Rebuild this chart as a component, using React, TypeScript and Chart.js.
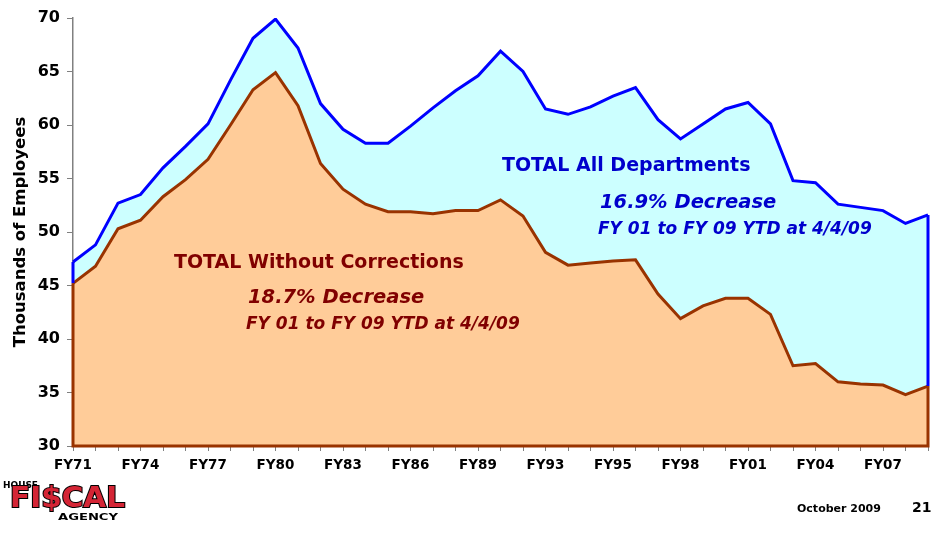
import { useEffect, useRef } from "react";
import { Chart, registerables } from "chart.js";

Chart.register(...registerables);

const categories = [
  "FY71", "FY72", "FY73", "FY74", "FY75", "FY76", "FY77", "FY78", "FY79", "FY80",
  "FY81", "FY82", "FY83", "FY84", "FY85", "FY86", "FY87", "FY88", "FY89", "FY90",
  "FY91", "FY92", "FY93", "FY94", "FY95", "FY96", "FY97", "FY98", "FY99", "FY00",
  "FY01", "FY02", "FY03", "FY04", "FY05", "FY06", "FY07", "FY08", "FY09",
];

const tickLabels = [
  "FY71", "FY74", "FY77", "FY80", "FY83", "FY86", "FY89",
  "FY93", "FY95", "FY98", "FY01", "FY04", "FY07",
];

const totalAllDepartments = [
  47.2, 48.8, 52.7, 53.5, 56.0, 58.0, 60.1, 64.2, 68.1, 69.9,
  67.2, 62.0, 59.6, 58.3, 58.3, 59.9, 61.6, 63.2, 64.6, 66.9,
  65.0, 61.5, 61.0, 61.7, 62.7, 63.5, 60.5, 58.7, 60.1, 61.5,
  62.1, 60.1, 54.8, 54.6, 52.6, 52.3, 52.0, 50.8, 51.6,
];

const totalWithoutCorrections = [
  45.2, 46.8, 50.3, 51.1, 53.3, 54.9, 56.8, 60.0, 63.3, 64.9,
  61.8, 56.4, 54.0, 52.6, 51.9, 51.9, 51.7, 52.0, 52.0, 53.0,
  51.5, 48.1, 46.9, 47.1, 47.3, 47.4, 44.2, 41.9, 43.1, 43.8,
  43.8, 42.3, 37.5, 37.7, 36.0, 35.8, 35.7, 34.8, 35.6,
];

const FONT = "'DejaVu Sans', Verdana, sans-serif";
const BLUE = "#0000FF";
const BROWN = "#993300";

const outlinePlugin = {
  id: "outline",
  afterDatasetsDraw(chart: any) {
    const ctx = chart.ctx;
    const blue = chart.getDatasetMeta(0).data;
    const orange = chart.getDatasetMeta(1).data;
    const bottom = chart.scales.y.getPixelForValue(30);
    const n = orange.length - 1;
    ctx.save();
    ctx.lineCap = "butt";
    ctx.strokeStyle = BLUE;
    ctx.lineWidth = 3;
    ctx.beginPath();
    ctx.moveTo(blue[0].x, blue[0].y);
    ctx.lineTo(orange[0].x, orange[0].y);
    ctx.moveTo(blue[n].x, blue[n].y);
    ctx.lineTo(orange[n].x, orange[n].y);
    ctx.stroke();
    ctx.strokeStyle = BROWN;
    ctx.lineWidth = 3;
    ctx.lineJoin = "miter";
    ctx.beginPath();
    ctx.moveTo(orange[0].x, orange[0].y);
    ctx.lineTo(orange[0].x, bottom);
    ctx.lineTo(orange[n].x, bottom);
    ctx.lineTo(orange[n].x, orange[n].y);
    ctx.stroke();
    ctx.restore();
  },
};

const textPlugin = {
  id: "texts",
  afterDraw(chart: any) {
    const ctx = chart.ctx;
    ctx.save();
    ctx.textBaseline = "middle";
    ctx.textAlign = "left";
    const put = (t: string, x: number, y: number, font: string, color: string) => {
      ctx.font = font;
      ctx.fillStyle = color;
      ctx.fillText(t, x, y);
    };
    const dBlue = "#0000CC";
    const dRed = "#800000";
    put("TOTAL All Departments", 502, 166, `bold 19px ${FONT}`, dBlue);
    put("16.9% Decrease", 600, 203, `italic bold 19.5px ${FONT}`, dBlue);
    put("FY 01 to FY 09 YTD at 4/4/09", 598, 230, `italic bold 17px ${FONT}`, dBlue);
    put("TOTAL Without Corrections", 174, 263, `bold 19px ${FONT}`, dRed);
    put("18.7% Decrease", 248, 298, `italic bold 19.5px ${FONT}`, dRed);
    put("FY 01 to FY 09 YTD at 4/4/09", 246, 325, `italic bold 17px ${FONT}`, dRed);

    put("October 2009", 797, 509, `bold 11px ${FONT}`, "#000000");
    put("21", 912, 508, `bold 14px ${FONT}`, "#000000");

    const fit = (t: string, x: number, y: number, w: number, font: string, fill: string, stroke?: string) => {
      ctx.font = font;
      const m = ctx.measureText(t).width;
      ctx.save();
      ctx.translate(x, y);
      ctx.scale(w / m, 1);
      if (stroke) {
        ctx.lineWidth = 2;
        ctx.strokeStyle = stroke;
        ctx.strokeText(t, 0, 0);
      }
      ctx.fillStyle = fill;
      ctx.fillText(t, 0, 0);
      ctx.restore();
    };
    fit("HOUSE", 3, 486, 35, `bold 8px ${FONT}`, "#000000");
    fit("FI$CAL", 10, 500, 115, `bold 28px ${FONT}`, "#D42535", "#000000");
    fit("AGENCY", 58, 518, 60, `bold 8px ${FONT}`, "#000000");
    ctx.restore();
  },
};

export default function App() {
  const ref = useRef<HTMLCanvasElement | null>(null);

  useEffect(() => {
    document.body.style.margin = "0";
    if (!ref.current) return;
    const chart = new Chart(ref.current, {
      type: "line",
      data: {
        labels: categories,
        datasets: [
          {
            label: "TOTAL All Departments",
            data: totalAllDepartments,
            borderColor: BLUE,
            borderWidth: 3,
            backgroundColor: "#CCFFFF",
            fill: "+1",
            pointRadius: 0,
            tension: 0,
            order: 1,
          },
          {
            label: "TOTAL Without Corrections",
            data: totalWithoutCorrections,
            borderColor: BROWN,
            borderWidth: 3,
            backgroundColor: "#FFCC99",
            fill: "start",
            pointRadius: 0,
            tension: 0,
            order: 0,
          },
        ],
      },
      options: {
        animation: false,
        responsive: false,
        maintainAspectRatio: false,
        layout: { padding: { left: 0, right: 20, top: 18, bottom: 0 } },
        plugins: {
          legend: { display: false },
          tooltip: { enabled: false },
        },
        scales: {
          x: {
            type: "category",
            offset: false,
            grid: {
              display: true,
              drawOnChartArea: false,
              drawTicks: true,
              tickLength: 5,
              color: "#808080",
            },
            border: { display: true, color: "#808080", width: 1 },
            ticks: {
              autoSkip: false,
              maxRotation: 0,
              minRotation: 0,
              padding: 6,
              color: "#000000",
              font: { family: FONT, weight: "bold", size: 13.5 },
              callback: (_v: any, i: number) => (i % 3 === 0 ? tickLabels[i / 3] : ""),
            },
            afterFit: (s: any) => {
              s.height = 90;
            },
          },
          y: {
            min: 30,
            max: 70,
            grid: {
              display: true,
              drawOnChartArea: false,
              drawTicks: true,
              tickLength: 6,
              color: "#808080",
            },
            border: { display: true, color: "#808080", width: 1.5 },
            ticks: {
              stepSize: 5,
              padding: 7,
              color: "#000000",
              font: { family: FONT, weight: "bold", size: 16 },
            },
            title: {
              display: true,
              text: "Thousands of Employees",
              color: "#000000",
              padding: { top: 11, bottom: 2 },
              font: { family: FONT, weight: "bold", size: 16.5 },
            },
            afterFit: (s: any) => {
              s.width = 73;
            },
          },
        },
      },
      plugins: [outlinePlugin, textPlugin],
    });
    return () => chart.destroy();
  }, []);

  return (
    <div style={{ position: "absolute", left: 0, top: 0, width: 948, height: 536, background: "#ffffff" }}>
      <canvas ref={ref} width={948} height={536} style={{ width: 948, height: 536, display: "block" }} />
    </div>
  );
}
